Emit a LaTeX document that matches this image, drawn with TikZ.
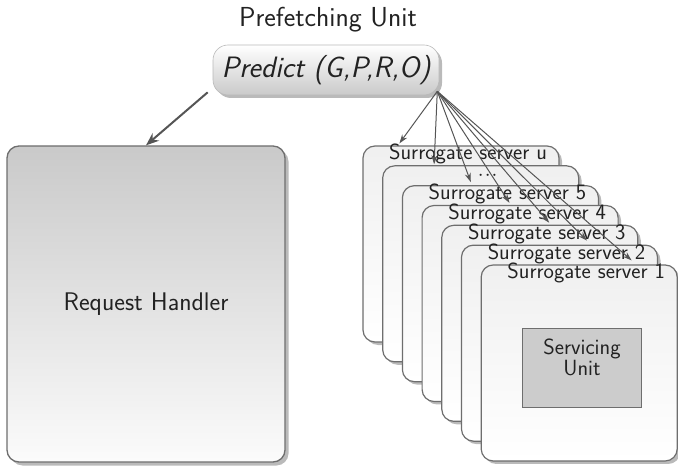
\documentclass[tikz,border=0pt]{standalone}
\usepackage{fontspec}
\usetikzlibrary{shadows,arrows.meta,calc}
\definecolor{edgegray}{HTML}{6E6E6E}
\definecolor{arrgray}{HTML}{555555}
\definecolor{txt}{HTML}{222222}
\begin{document}
\begin{tikzpicture}[x=1pt,y=-1pt,
  every node/.style={text=txt,font=\sffamily},
  rhbox/.style={draw=edgegray,line width=1.3pt,rounded corners=12pt,
    top color=gray!42,bottom color=gray!3,
    drop shadow={shadow xshift=3.5pt,shadow yshift=-3.5pt,opacity=0.45,fill=gray!80!black},
    minimum width=278pt,minimum height=316pt,inner sep=0pt},
  predbox/.style={draw=gray!55,line width=0.6pt,rounded corners=15pt,
    top color=white,bottom color=gray!42,
    drop shadow={shadow xshift=3pt,shadow yshift=-3pt,opacity=0.45,fill=gray!80!black},
    minimum width=226pt,minimum height=50pt,inner sep=0pt},
  srvbox/.style={draw=edgegray,line width=1.2pt,rounded corners=12pt,
    top color=gray!12,bottom color=white,
    drop shadow={shadow xshift=3pt,shadow yshift=-3pt,opacity=0.45,fill=gray!80!black},
    minimum width=196pt,minimum height=196pt,inner sep=0pt},
  srvlabel/.style={font=\sffamily\fontsize{22}{22}\selectfont,inner sep=0pt,anchor=base},
  subox/.style={draw=edgegray,line width=1pt,fill=gray!40,
    minimum width=119pt,minimum height=79pt,inner sep=0pt},
  fan/.style={draw=arrgray,line width=1pt,-{Stealth[length=9pt,width=6pt]}},
  bigarrow/.style={draw=arrgray,line width=2pt,-{Stealth[length=13pt,width=10pt]}}
]
\useasboundingbox (0,0) rectangle (678,468);

% Prefetching unit
\node[font=\sffamily\fontsize{27.5}{30}\selectfont,inner sep=0pt,anchor=base] (pu) at (328,27) {Prefetching Unit};
\node[predbox,font=\sffamily\itshape\fontsize{29.5}{30}\selectfont] (pred) at (326,70) {Predict (G,P,R,O)};

% Request handler
\node[rhbox,font=\sffamily\fontsize{25.5}{28}\selectfont] (rh) at (146,304) {Request Handler};

% Surrogate servers
\foreach \k/\t in {0/Surrogate server u,2/Surrogate server 5,3/Surrogate server 4,4/Surrogate server 3,5/Surrogate server 2,6/Surrogate server 1}{
  \node[srvbox] (s\k) at ({363+19.7*\k+98},{146+19.83*\k+98}) {};
  \node[srvlabel] (l\k) at ($(s\k.north)+(7,14.5)$) {\t};
  \ifnum\k=0
    \node[srvbox] (s1) at ({363+19.7+98},{146+19.83+98}) {};
    \node[inner sep=0pt,text height=2pt,text depth=0pt,anchor=base,font=\fontsize{22}{22}\selectfont] (l1) at ($(s1.north)+(7,15.5)$) {$\cdot\!\cdot\!\cdot$};
  \fi
}

% Servicing unit
\node[subox] (su) at (581.5,367.5) {};
\node[font=\sffamily\fontsize{22}{19.5}\selectfont,align=center,inner sep=0pt] (sut) at (582,357) {Servicing\\Unit};

% connectors
\coordinate (apex) at ($(pred.south east)+(-2,-4)$);
\coordinate (pstart) at ($(pred.south west)+(-5,-3)$);
\draw[bigarrow] (pstart) -- (rh.north);

\coordinate (t0) at ($(s0.north west)+(37,-2)$);
\coordinate (t1) at ($(s1.north west)+(52,-1)$);
\coordinate (t2) at ($(s2.north west)+(69,-3)$);
\coordinate (t3) at ($(s3.north west)+(88,-2)$);
\coordinate (t4) at ($(s4.north west)+(108,-2)$);
\coordinate (t5) at ($(s5.north west)+(126,-4)$);
\coordinate (t6) at ($(s6.north west)+(151,-4)$);
\foreach \k in {0,...,6}{\draw[fan] (apex) -- (t\k);}
\end{tikzpicture}
\end{document}
